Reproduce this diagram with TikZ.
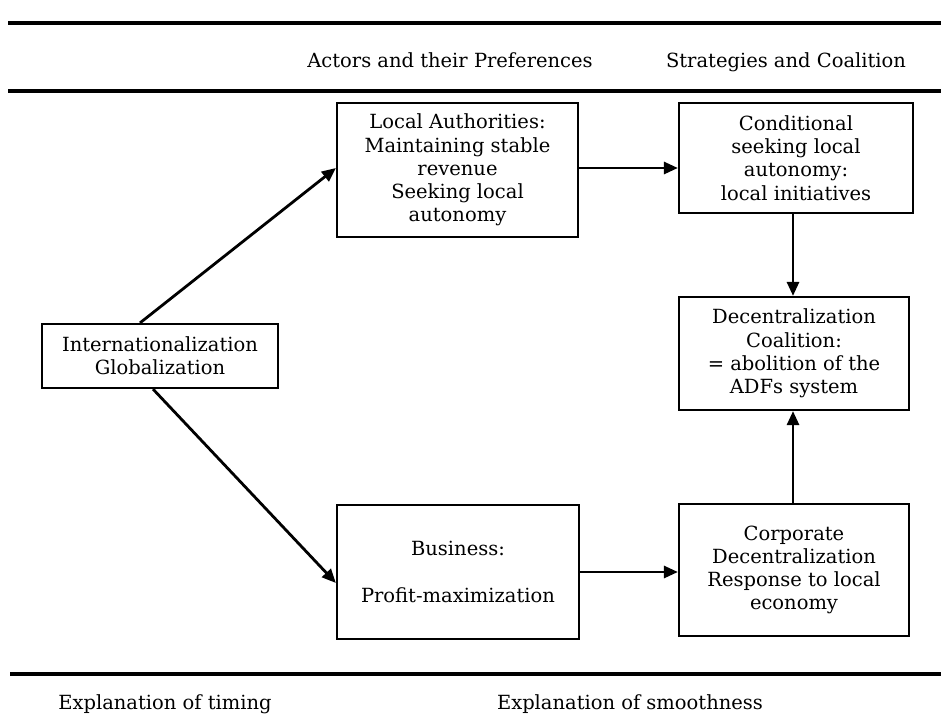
\documentclass[tikz,border=0pt]{standalone}
\usepackage{fontspec}
\setmainfont{DejaVu Serif}
\usetikzlibrary{calc, arrows.meta}

\begin{document}
\begin{tikzpicture}[x=1pt, y=-1pt,
    font=\fontsize{19.5}{23.2}\selectfont,
    mybox/.style={draw, line width=2.2pt, align=center, inner sep=0pt},
    myarrow/.style={line width=2.8pt, -{Triangle[length=14pt,width=12pt]}},
    myrule/.style={line width=3.4pt}]

        % fix the page to the size of the scan
        \useasboundingbox (0,0) rectangle (941,717);

        % rules of the table
        \draw[myrule] (8,23) -- (941,23);
        \draw[myrule] (8,91) -- (941,91);
        \draw[myrule] (10,674) -- (941,674);

        % column headings
        \node[anchor=base] (actors) at (450,67) {Actors and their Preferences};
        \node[anchor=base] (strategies) at (786,67) {Strategies and Coalition};

        % the boxes
        \node[mybox, minimum width=236pt, minimum height=64pt] (intern) at (160,356)
            {Internationalization\\Globalization};
        \node[mybox, minimum width=241pt, minimum height=134pt] (local) at (457.5,170)
            {Local Authorities:\\Maintaining stable\\revenue\\Seeking local\\autonomy};
        \node[mybox, minimum width=242pt, minimum height=134pt] (business) at (458,572)
            {Business:\\[23pt]Profit-maximization};
        \node[mybox, minimum width=234pt, minimum height=110pt] (conditional) at (796,158)
            {Conditional\\seeking local\\autonomy:\\local initiatives};
        \node[mybox, minimum width=230pt, minimum height=113pt] (coalition) at (794,353.5)
            {Decentralization\\Coalition:\\= abolition of the\\ADFs system};
        \node[mybox, minimum width=230pt, minimum height=132pt] (corporate) at (794,570)
            {Corporate\\Decentralization\\Response to local\\economy};

        % connectors
        \draw[myarrow] ($(intern.north)+(-20,0)$) -- ($(local.west)+(0,-2)$);
        \draw[myarrow] ($(intern.south)+(-7,0)$) -- ($(business.west)+(0,11)$);
        \draw[myarrow] ($(local.east)+(0,-2)$) -- ($(local.east -| conditional.west)+(0,-2)$);
        \draw[myarrow] (business.east) -- (business.east -| corporate.west);
        \draw[myarrow] ($(conditional.south)+(-3,0)$) -- ($(coalition.north)+(-1,0)$);
        \draw[myarrow] ($(corporate.north)+(-1,0)$) -- ($(coalition.south)+(-1,0)$);

        % explanations under the table
        \node[anchor=base] (timing) at (165,709) {Explanation of timing};
        \node[anchor=base] (smooth) at (630,709) {Explanation of smoothness};
\end{tikzpicture}
\end{document}
